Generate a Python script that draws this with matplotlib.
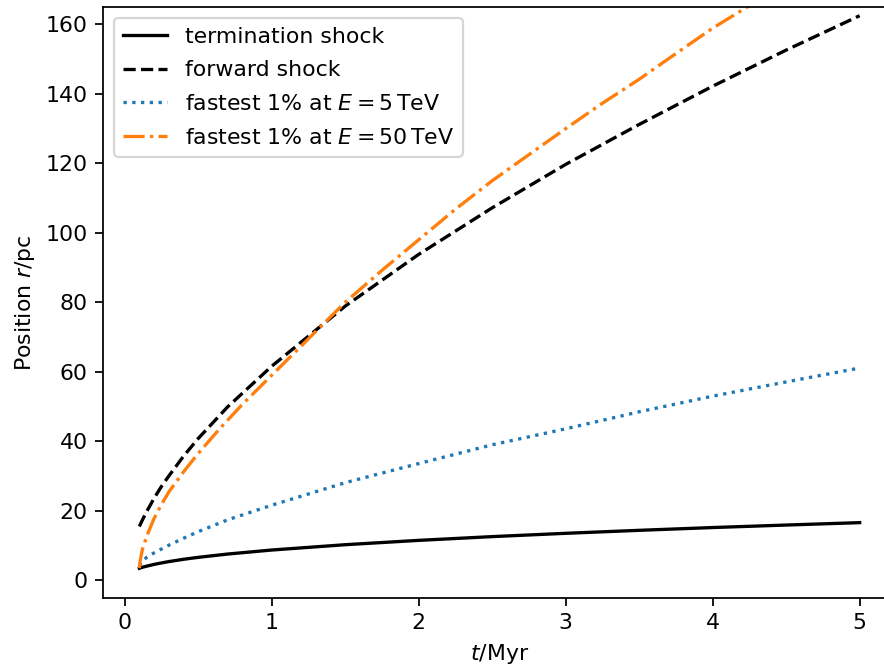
import matplotlib
matplotlib.use("Agg")
import matplotlib.pyplot as plt

# time grid (Myr) for termination shock, forward shock and 5 TeV particles
t = [0.1, 0.12, 0.15, 0.2, 0.25, 0.3, 0.4, 0.5, 0.7, 1.0, 1.5, 2.0, 2.5, 3.0, 3.5, 4.0, 4.5, 5.0]
r_termination = [3.47, 3.75, 4.08, 4.58, 5.0, 5.39, 6.05, 6.61, 7.56, 8.72, 10.25, 11.5, 12.58,
                 13.53, 14.39, 15.19, 15.91, 16.6]
r_forward = [15.5, 17.3, 19.8, 23.6, 27.0, 30.0, 35.7, 40.8, 49.9, 61.6, 78.9, 93.8, 107.2,
             119.7, 131.2, 142.2, 152.6, 162.5]
r_fast_5tev = [4.2, 5.6, 6.6, 7.9, 9.0, 10.1, 12.1, 14.0, 17.4, 21.6, 28.1, 33.6, 39.0,
               43.6, 48.5, 53.0, 57.1, 61.1]

# time grid (Myr) for 50 TeV particles
t_50 = [0.1, 0.105, 0.12, 0.15, 0.2, 0.25, 0.3, 0.4, 0.5, 0.65, 0.8, 1.0, 1.25, 1.5, 1.75,
        2.0, 2.25, 2.5, 2.75, 3.0, 3.25, 3.5, 3.75, 4.0, 4.25, 4.5, 4.75, 5.0]
r_fast_50tev = [3.5, 5.5, 8.8, 12.7, 17.8, 21.8, 25.4, 31.2, 36.5, 43.8, 50.6, 59.0, 69.5,
                80.0, 89.2, 98.0, 106.8, 115.0, 122.5, 130.0, 137.3, 144.2, 151.6, 158.9,
                165.4, 172.5, 179.3, 186.0]

labels = ["termination shock", "forward shock",
          r"fastest 1% at $E = 5\,\mathrm{TeV}$",
          r"fastest 1% at $E = 50\,\mathrm{TeV}$"]

x_ticks = [0, 1, 2, 3, 4, 5]
y_ticks = [0, 20, 40, 60, 80, 100, 120, 140, 160]

DPI = 158.4
fig = plt.figure(figsize=(884 / DPI, 667 / DPI), dpi=DPI)
ax = fig.add_axes([0.1169, 0.1039, 0.8963, 0.8856])

ax.plot(t, r_termination, color="black", linestyle="-", label=labels[0])
ax.plot(t, r_forward, color="black", linestyle="--", label=labels[1])
ax.plot(t, r_fast_5tev, color="#1f77b4", linestyle=":", label=labels[2])
ax.plot(t_50, r_fast_50tev, color="#ff7f0e", linestyle="-.", label=labels[3])

ax.set_xlim(-0.145, 5.245)
ax.set_ylim(-5, 165)
ax.set_xticks(x_ticks)
ax.set_yticks(y_ticks)
ax.set_xlabel(r"$t$/Myr")
ax.set_ylabel(r"Position $r$/pc")
ax.legend(loc="upper left", labelspacing=0.62)

fig.savefig("out.png", dpi=DPI)
